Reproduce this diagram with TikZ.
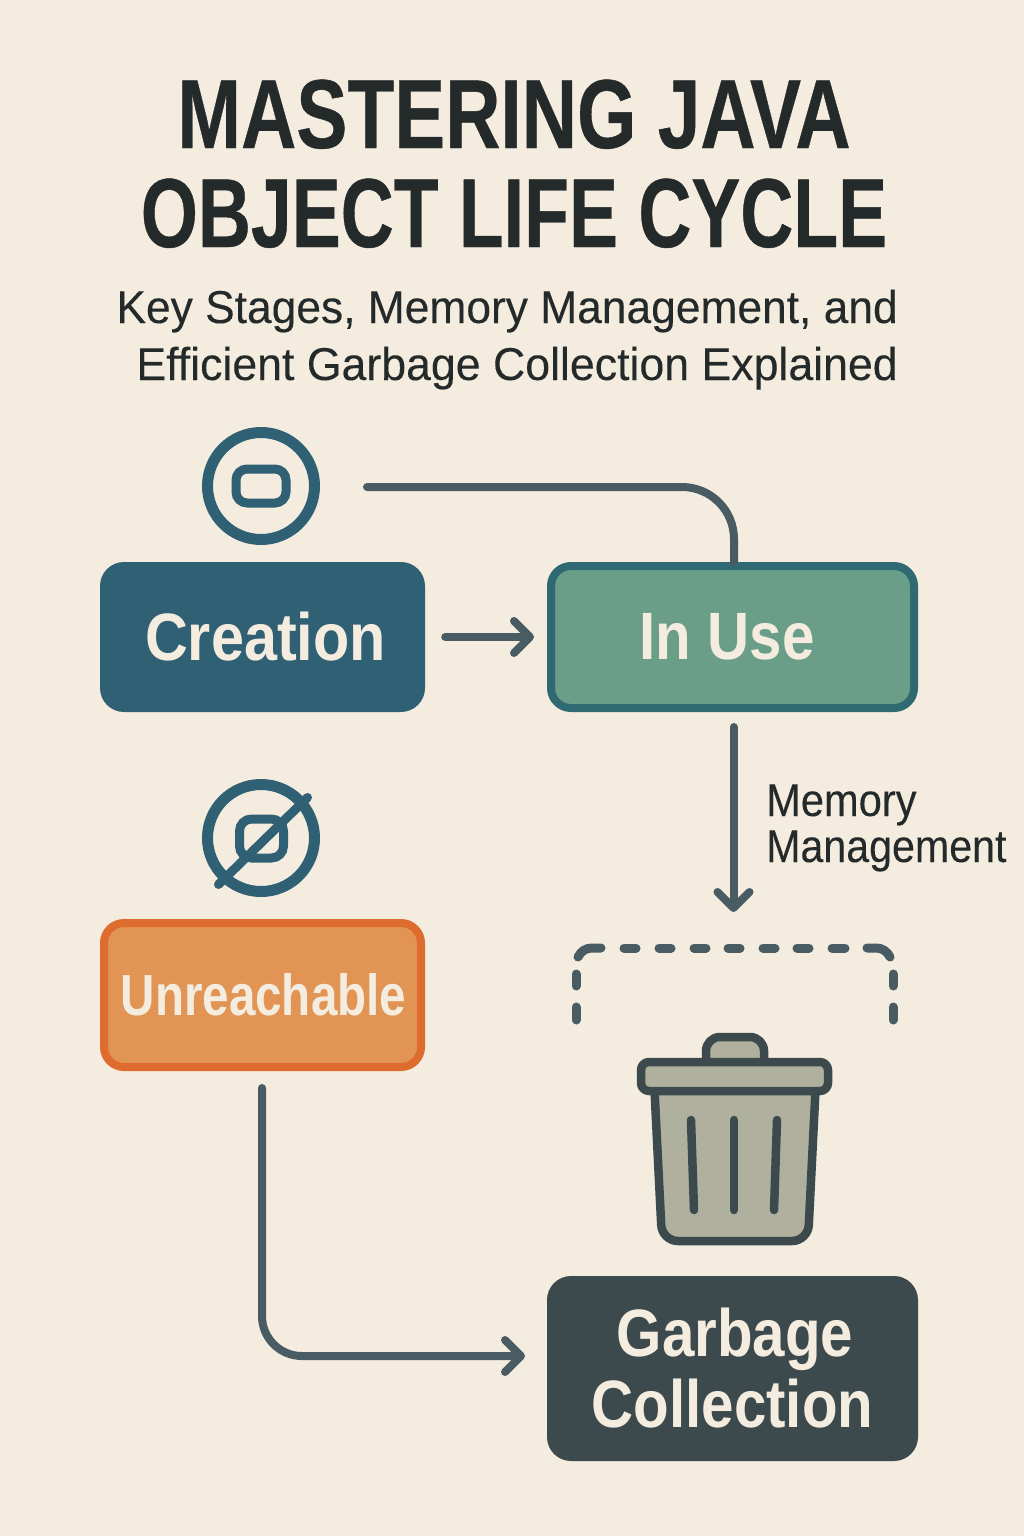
\documentclass[tikz,border=0pt]{standalone}
\usepackage{fontspec}
\usepackage{graphicx}
\setmainfont{Liberation Sans}
\newfontfamily\titlefont[FakeBold=0.45]{Liberation Sans Bold}
\newfontfamily\medfont[FakeBold=0.15]{Liberation Sans}
\usetikzlibrary{arrows.meta}
\definecolor{bgc}{HTML}{F4ECDF}
\definecolor{ink}{HTML}{24292A}
\definecolor{teal}{HTML}{2F6074}
\definecolor{sage}{HTML}{6B9E88}
\definecolor{sagel}{HTML}{2F6A72}
\definecolor{orangef}{HTML}{E29454}
\definecolor{oranged}{HTML}{DE6C2E}
\definecolor{slate}{HTML}{3C4A4D}
\definecolor{conn}{HTML}{4A5C63}
\definecolor{bing}{HTML}{B0B09E}
\definecolor{cream}{HTML}{F4ECDF}
\newcommand{\sx}[2]{\scalebox{#1}[1]{#2}}
\tikzset{
  stage/.style={rectangle,rounded corners=24pt,inner sep=0pt,align=center,text=cream,font=\fontsize{67}{72}\selectfont\bfseries},
  stagelined/.style={stage,rounded corners=20pt,line width=8pt},
  conline/.style={draw=conn,line width=8pt,line cap=round},
  chev/.style={-{Straight Barb[round,length=16pt,width=32pt,line width=8pt]}},
  iconring/.style={circle,draw=teal,line width=11pt,minimum size=107pt,inner sep=0pt},
  iconrect/.style={rectangle,draw=teal,line width=9pt},
  iconline/.style={draw=teal,line width=9pt,line cap=round,fill=none},
  binline/.style={draw=slate,line width=8.5pt,line cap=round,line join=round},
  dashseg/.style={draw=conn,line width=9pt,line cap=round},
  titletext/.style={text=ink,font=\fontsize{98}{98}\titlefont,inner sep=0pt,anchor=base},
  subtext/.style={text=ink,font=\fontsize{46}{46}\medfont,inner sep=0pt,anchor=base east},
  labeltext/.style={text=ink,font=\fontsize{46}{46}\medfont,inner sep=0pt,anchor=base west}
}
\begin{document}
\begin{tikzpicture}[x=1pt,y=-1pt]
\useasboundingbox (0,0) rectangle (1024,1536);
\fill[bgc] (0,0) rectangle (1024,1536);
% title
\node[titletext] (t1) at (514,148) {\sx{0.781}{MASTERING JAVA}};
\node[titletext] (t2) at (514,247) {\sx{0.749}{OBJECT LIFE CYCLE}};
\node[subtext] (s1) at (898,323) {\sx{0.964}{Key Stages, Memory Management, and}};
\node[subtext] (s2) at (898,380) {\sx{0.971}{Efficient Garbage Collection Explained}};
% boxes
\node[stage,fill=teal,minimum width=325pt,minimum height=150pt] (creation) at (262.5,637) {\hspace{6pt}\sx{0.886}{Creation}};
\node[stagelined,fill=sage,draw=sagel,minimum width=363pt,minimum height=142pt] (inuse) at (732.5,637) {\hspace{-11pt}\sx{0.87}{In Use}};
\node[stagelined,fill=orangef,draw=oranged,minimum width=317pt,minimum height=144pt,font=\fontsize{58}{62}\selectfont\bfseries] (unreach) at (262.5,995) {\hspace{2pt}\sx{0.82}{Unreachable}};
\node[stage,fill=slate,minimum width=371pt,minimum height=185pt] (gc) at (732.5,1368.5) {\hspace{5pt}\sx{0.87}{Garbage}\\[-1pt]\sx{0.87}{Collection}};
% icons
\node[iconring] (ico1) at (261,486) {};
\node[iconrect,rounded corners=11pt,minimum width=50pt,minimum height=34pt] (ico1b) at (261,486) {};
\node[iconring] (ico2) at (261,838) {};
\node[iconrect,rounded corners=12pt,minimum width=44pt,minimum height=39pt] (ico2b) at (261.5,838.5) {};
\draw[iconline] (218.5,884.5) -- (307.5,797.5);
% connectors
\coordinate (c1) at (367,487);
\draw[conline,rounded corners=52pt] (c1) -- (734,487) -- (734,562);
\draw[conline,chev,shorten <=20pt,shorten >=13pt] (creation) -- (inuse);
\coordinate (c2) at (733.5,727);
\coordinate (c3) at (733.5,912);
\draw[conline,chev] (c2) -- (c3);
\coordinate (c4) at (262,1088);
\draw[conline,chev,rounded corners=40pt] (c4) -- (262,1356) -- (525,1356);
\node[labeltext] (m1) at (766,816) {\sx{0.905}{Memory}};
\node[labeltext] (m2) at (766,862) {\sx{0.895}{Management}};
% dashed bracket
\foreach \a/\b in {620/640,655/675,690/710,724/744,759/779,793/813,828/849}
  \draw[dashseg] (\a+4,948) -- (\b-4,948);
\draw[dashseg] (578,957) .. controls (581,951) and (586,948) .. (592,948) -- (601,948);
\draw[dashseg] (867,948) -- (876,948) .. controls (882,948) and (887,951) .. (890,957);
\draw[dashseg] (576,974) -- (576,986);
\draw[dashseg] (576,1007) -- (576,1020);
\draw[dashseg] (893,974) -- (893,986);
\draw[dashseg] (893,1007) -- (893,1020);
% bin
\draw[binline,fill=bing,rounded corners=14pt] (706,1064) -- (706,1037) -- (764,1037) -- (764,1064);
\draw[binline,fill=bing] (654,1080) [rounded corners=16pt] -- (662,1241) -- (808,1241) [sharp corners] -- (816,1080) -- cycle;
\draw[binline,fill=bing,rounded corners=8pt] (641,1091) -- (641,1062) -- (828,1062) -- (828,1091) -- cycle;
\draw[binline] (691,1120) -- (694,1210);
\draw[binline] (734,1120) -- (734,1210);
\draw[binline] (777,1120) -- (774,1210);
\end{tikzpicture}
\end{document}
